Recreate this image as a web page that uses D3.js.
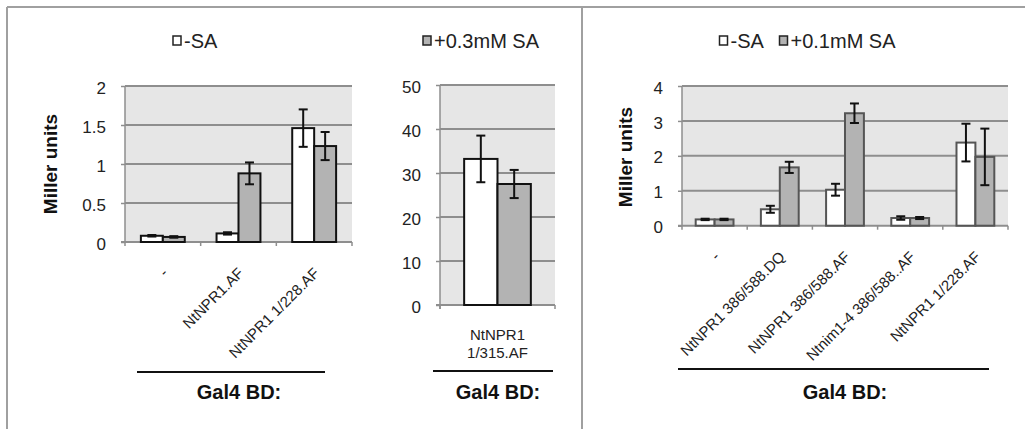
<!DOCTYPE html>
<html>
<head>
<meta charset="utf-8">
<script src="https://cdn.jsdelivr.net/npm/d3@7"></script>
<style>
  html, body { margin: 0; padding: 0; background: #fff; }
  svg { display: block; font-family: "Liberation Sans", Arial, sans-serif; }
</style>
</head>
<body>
<svg id="chart" width="1025" height="429"></svg>
<script>
// ---------------- DATA ----------------
const seriesNames = ["-SA", "+SA"];

const p1Categories = ["-", "NtNPR1.AF", "NtNPR1 1/228.AF"];
const p1Minus      = [0.08, 0.11, 1.46];
const p1MinusErr   = [0.01, 0.015, 0.24];
const p1Plus       = [0.065, 0.88, 1.23];
const p1PlusErr    = [0.01, 0.14, 0.18];
const p1Ticks      = [0, 0.5, 1, 1.5, 2];
const p1TickLabels = ["0", "0.5", "1", "1.5", "2"];

const p2Categories = ["NtNPR1 1/315.AF"];
const p2LabelLines = ["NtNPR1", "1/315.AF"];
const p2Minus      = [33.2];
const p2MinusErr   = [5.3];
const p2Plus       = [27.5];
const p2PlusErr    = [3.2];
const p2Ticks      = [0, 10, 20, 30, 40, 50];
const p2TickLabels = ["0", "10", "20", "30", "40", "50"];

const p3Categories = ["-", "NtNPR1 386/588.DQ", "NtNPR1 386/588.AF", "Ntnim1-4 386/588..AF", "NtNPR1 1/228.AF"];
const p3Minus      = [0.18, 0.47, 1.03, 0.22, 2.38];
const p3MinusErr   = [0.02, 0.10, 0.17, 0.05, 0.54];
const p3Plus       = [0.18, 1.67, 3.22, 0.22, 1.97];
const p3PlusErr    = [0.02, 0.16, 0.28, 0.03, 0.81];
const p3Ticks      = [0, 1, 2, 3, 4];
const p3TickLabels = ["0", "1", "2", "3", "4"];

const legendP1 = ["-SA"];
const legendP2 = ["+0.3mM SA"];
const legendP3 = ["-SA", "+0.1mM SA"];
const yTitle = "Miller units";
const groupTitle = "Gal4 BD:";

// ---------------- STYLE ----------------
const BG = "#e6e6e6", GRID = "#8e8e8e", GRAYFILL = "#b3b3b3";
const FONT = "\"Liberation Sans\", Arial, sans-serif";

const svg = d3.select("#chart");

// frame lines
const frame = svg.append("g").attr("stroke", "#a0a0a0").attr("stroke-width", 2);
frame.append("line").attr("x1", 7).attr("x2", 1025).attr("y1", 7).attr("y2", 7);
frame.append("line").attr("x1", 7).attr("x2", 7).attr("y1", 7).attr("y2", 429);
frame.append("line").attr("x1", 582).attr("x2", 582).attr("y1", 7).attr("y2", 429);

function drawPanel(cfg) {
  const g = svg.append("g");
  const x = d3.scaleBand().domain(cfg.categories).range(cfg.xRange)
    .paddingInner(0.42).paddingOuter(0.21);
  const xs = d3.scaleBand().domain(seriesNames).range([0, x.bandwidth()]);
  const y = d3.scaleLinear().domain([cfg.ticks[0], cfg.ticks[cfg.ticks.length - 1]]).range(cfg.yRange);

  // background
  g.append("rect")
    .attr("x", cfg.xRange[0]).attr("y", y.range()[1])
    .attr("width", cfg.xRange[1] - cfg.xRange[0])
    .attr("height", y.range()[0] - y.range()[1])
    .attr("fill", BG);

  // gridlines
  g.selectAll("line.grid").data(cfg.ticks.slice(1)).join("line")
    .attr("x1", cfg.xRange[0]).attr("x2", cfg.xRange[1])
    .attr("y1", d => y(d)).attr("y2", d => y(d))
    .attr("stroke", GRID).attr("stroke-width", 2);

  // y axis
  const yAxis = d3.axisLeft(y).tickValues(cfg.ticks)
    .tickFormat((d, i) => cfg.tickLabels[i]).tickSize(4).tickPadding(15);
  const ya = g.append("g").attr("transform", `translate(${cfg.xRange[0]},0)`).call(yAxis);
  ya.select(".domain").remove();
  ya.selectAll(".tick line").attr("stroke", GRID).attr("stroke-width", 1.5);
  ya.selectAll(".tick text").attr("font-size", 17).attr("font-family", FONT)
    .attr("fill", "#222").attr("dy", "0.42em");
  g.append("line").attr("x1", cfg.xRange[0]).attr("x2", cfg.xRange[0])
    .attr("y1", y.range()[1]).attr("y2", y.range()[0] + 4)
    .attr("stroke", GRID).attr("stroke-width", 1.5);

  // x axis line + ticks at band boundaries
  g.append("line").attr("x1", cfg.xRange[0] - 4).attr("x2", cfg.xRange[1])
    .attr("y1", y.range()[0]).attr("y2", y.range()[0])
    .attr("stroke", GRID).attr("stroke-width", 2);
  const bounds = cfg.categories.map(c => x(c) - x.step() * 0.21).concat([cfg.xRange[1]]).slice(1);
  if (cfg.categories.length === 1) bounds.unshift(cfg.xRange[0]);
  g.selectAll("line.xt").data(bounds).join("line")
    .attr("x1", d => d).attr("x2", d => d)
    .attr("y1", y.range()[0]).attr("y2", y.range()[0] + 4)
    .attr("stroke", GRID).attr("stroke-width", 1.5);

  // bars
  const rows = cfg.categories.map((c, i) => ({
    c, vals: [
      { s: seriesNames[0], v: cfg.minus[i], e: cfg.minusErr[i], fill: "#ffffff" },
      { s: seriesNames[1], v: cfg.plus[i], e: cfg.plusErr[i], fill: GRAYFILL }
    ]
  }));
  const cg = g.selectAll("g.cat").data(rows).join("g")
    .attr("transform", d => `translate(${x(d.c)},0)`);
  cg.selectAll("rect").data(d => d.vals).join("rect")
    .attr("x", d => xs(d.s)).attr("width", xs.bandwidth())
    .attr("y", d => y(d.v)).attr("height", d => y(0) - y(d.v))
    .attr("fill", d => d.fill).attr("stroke", cfg.barStroke).attr("stroke-width", 2);

  // error bars
  const eg = cg.selectAll("g.err").data(d => d.vals).join("g")
    .attr("stroke", "#111").attr("stroke-width", 2);
  eg.append("line")
    .attr("x1", d => xs(d.s) + xs.bandwidth() / 2).attr("x2", d => xs(d.s) + xs.bandwidth() / 2)
    .attr("y1", d => y(d.v + d.e)).attr("y2", d => y(d.v - d.e));
  eg.append("line")
    .attr("x1", d => xs(d.s) + xs.bandwidth() / 2 - 4.5).attr("x2", d => xs(d.s) + xs.bandwidth() / 2 + 4.5)
    .attr("y1", d => y(d.v + d.e)).attr("y2", d => y(d.v + d.e));
  eg.append("line")
    .attr("x1", d => xs(d.s) + xs.bandwidth() / 2 - 4.5).attr("x2", d => xs(d.s) + xs.bandwidth() / 2 + 4.5)
    .attr("y1", d => y(d.v - d.e)).attr("y2", d => y(d.v - d.e));

  // x labels
  if (cfg.rotated) {
    g.selectAll("text.xl").data(cfg.categories).join("text")
      .attr("transform", d => `translate(${x(d) + x.bandwidth() / 2 + 6},${y(0) + 32}) rotate(-45)`)
      .attr("text-anchor", "end").attr("font-size", 15).attr("font-family", FONT)
      .attr("fill", "#222").text(d => d);
  } else {
    const t = g.append("text").attr("text-anchor", "middle").attr("font-size", 15)
      .attr("font-family", FONT).attr("fill", "#222");
    cfg.labelLines.forEach((l, i) => {
      t.append("tspan").attr("x", x(cfg.categories[0]) + x.bandwidth() / 2)
        .attr("y", y(0) + 35 + i * 18).text(l);
    });
  }

  // y title
  if (cfg.yTitlePos) {
    g.append("text")
      .attr("transform", `translate(${cfg.yTitlePos[0]},${cfg.yTitlePos[1]}) rotate(-90)`)
      .attr("text-anchor", "middle").attr("font-size", 19).attr("font-weight", "bold")
      .attr("font-family", FONT).attr("fill", "#111").text(yTitle);
  }

  // group underline + title
  g.append("line").attr("x1", cfg.line[0]).attr("x2", cfg.line[1])
    .attr("y1", cfg.line[2]).attr("y2", cfg.line[2])
    .attr("stroke", "#111").attr("stroke-width", 2);
  g.append("text").attr("x", cfg.titleX).attr("y", 399).attr("text-anchor", "middle")
    .attr("font-size", 20).attr("font-weight", "bold").attr("font-family", FONT)
    .attr("fill", "#111").text(groupTitle);

  // legend
  cfg.legend.forEach(item => {
    g.append("rect").attr("x", item.x).attr("y", 36).attr("width", 8).attr("height", 9)
      .attr("fill", item.fill).attr("stroke", "#222").attr("stroke-width", 1.5);
    g.append("text").attr("x", item.x + 11).attr("y", 48).attr("font-size", 20)
      .attr("font-family", FONT).attr("fill", "#222").text(item.label);
  });
}

drawPanel({
  categories: p1Categories, minus: p1Minus, minusErr: p1MinusErr, plus: p1Plus, plusErr: p1PlusErr,
  ticks: p1Ticks, tickLabels: p1TickLabels,
  xRange: [125, 352], yRange: [242, 86], barStroke: "#111", rotated: true,
  yTitlePos: [57, 164], line: [137, 325, 372], titleX: 239,
  legend: [{ x: 173, fill: "#ffffff", label: legendP1[0] }]
});

drawPanel({
  categories: p2Categories, labelLines: p2LabelLines, minus: p2Minus, minusErr: p2MinusErr, plus: p2Plus, plusErr: p2PlusErr,
  ticks: p2Ticks, tickLabels: p2TickLabels,
  xRange: [440, 555], yRange: [305, 85], barStroke: "#111", rotated: false,
  yTitlePos: null, line: [433, 553, 371], titleX: 498,
  legend: [{ x: 423, fill: GRAYFILL, label: legendP2[0] }]
});

drawPanel({
  categories: p3Categories, minus: p3Minus, minusErr: p3MinusErr, plus: p3Plus, plusErr: p3PlusErr,
  ticks: p3Ticks, tickLabels: p3TickLabels,
  xRange: [682, 1008], yRange: [225.7, 86], barStroke: "#555", rotated: true,
  yTitlePos: [632, 157], line: [678, 989, 369], titleX: 845,
  legend: [{ x: 719.5, fill: "#ffffff", label: legendP3[0] }, { x: 779.5, fill: GRAYFILL, label: legendP3[1] }]
});
</script>
</body>
</html>
